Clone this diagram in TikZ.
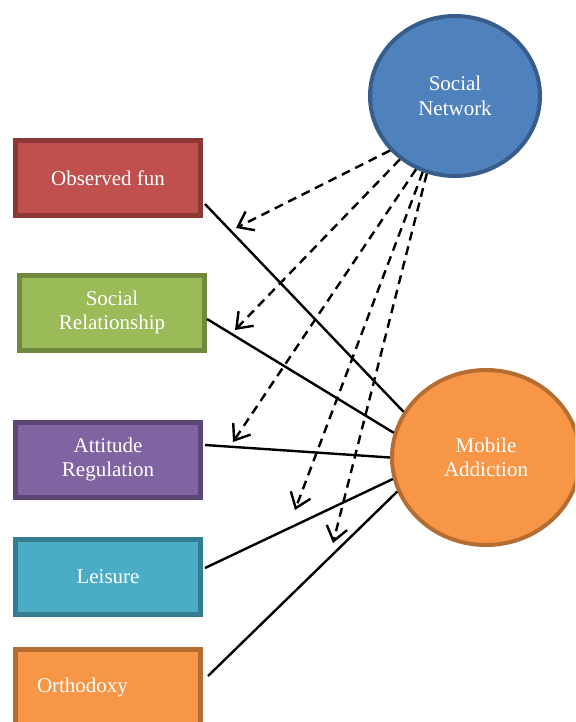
\documentclass[tikz,border=0pt]{standalone}
\usepackage{fontspec}
\setmainfont{Liberation Serif}
\usetikzlibrary{shapes.geometric,arrows.meta}
\definecolor{redF}{HTML}{C0504D}\definecolor{redB}{HTML}{8C3836}
\definecolor{grnF}{HTML}{9BBB59}\definecolor{grnB}{HTML}{71893F}
\definecolor{purF}{HTML}{8064A2}\definecolor{purB}{HTML}{5C4776}
\definecolor{teaF}{HTML}{4BACC6}\definecolor{teaB}{HTML}{357D91}
\definecolor{orgF}{HTML}{F79646}\definecolor{orgB}{HTML}{B66D31}
\definecolor{bluF}{HTML}{4F81BD}\definecolor{bluB}{HTML}{385D8A}
\tikzset{
  box/.style={draw, line width=5pt, minimum width=185pt, minimum height=75pt,
    text=white, align=center, inner sep=0pt,
    font=\fontsize{21}{24.5}\selectfont},
  oval/.style={ellipse, draw, line width=4pt, text=white, align=center, inner sep=0pt,
    font=\fontsize{21}{24.5}\selectfont},
  link/.style={line width=2.4pt, black},
  dlink/.style={line width=2.4pt, black, dash pattern=on 9pt off 6pt,
    -{Straight Barb[length=14pt,width=21pt,line width=2.4pt]}},
}
\begin{document}
\begin{tikzpicture}[x=1pt,y=-1pt]
\useasboundingbox (0,0) rectangle (575,722);
\begin{scope}
\clip (0,0) rectangle (575,722);
\node[oval, fill=bluF, draw=bluB, minimum width=170pt, minimum height=160pt] (sn) at (455,96) {Social\\Network};
\node[oval, fill=orgF, draw=orgB, minimum width=188pt, minimum height=175pt] (ma) at (486,457.5) {Mobile\\Addiction};
\node[box, fill=redF, draw=redB] (obs) at (108,178) {Observed fun};
\node[box, fill=grnF, draw=grnB] (soc) at (112,312.5) {Social\\Relationship};
\node[box, fill=purF, draw=purB] (att) at (108,459.5) {Attitude\\Regulation};
\node[box, fill=teaF, draw=teaB] (lei) at (108,577) {Leisure};
\node[box, fill=orgF, draw=orgB, text width=142pt, align=left, inner xsep=21.5pt] (ort) at (108,687) {Orthodoxy};
\end{scope}

\draw[link] ([xshift=2pt,yshift=-26pt]obs.east) -- (ma.151.6);
\draw[link] ([yshift=-6.5pt]soc.east) -- (ma.165);
\draw[link] ([xshift=2pt,yshift=14.5pt]att.east) -- (ma.180);
\draw[link] ([xshift=2pt,yshift=9pt]lei.east) -- (ma.193.6);
\draw[link] ([xshift=5pt,yshift=11pt]ort.east) -- (ma.201.4);

\coordinate (t1) at (236,228);
\coordinate (t2) at (235,330);
\coordinate (t3) at (233,442);
\coordinate (t4) at (295,510);
\coordinate (t5) at (333,543);
\draw[dlink] (sn.220) -- (t1);
\draw[dlink] (sn.229) -- (t2);
\draw[dlink] (sn.242) -- (t3);
\draw[dlink] (sn.247) -- (t4);
\draw[dlink] (sn.250) -- (t5);
\end{tikzpicture}
\end{document}
